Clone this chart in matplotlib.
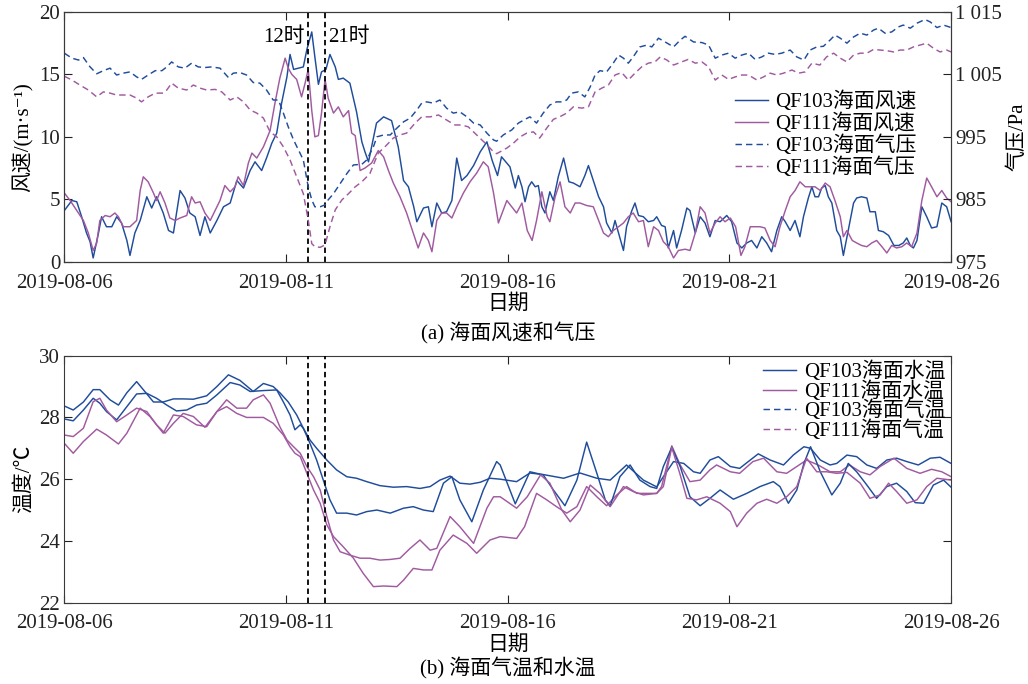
import numpy as np
import matplotlib
matplotlib.use("Agg")
import matplotlib.pyplot as plt
import matplotlib.dates as mdates
from matplotlib.lines import Line2D
from datetime import datetime

plt.rcParams['font.family'] = ['Liberation Serif', 'Noto Sans CJK SC', 'DejaVu Serif']
plt.rcParams['axes.unicode_minus'] = False

# ---------------- data (time in days since 2019-08-06 00:00) ----------------
t_w103 = [0.00,0.17,0.28,0.39,0.50,0.58,0.65,0.77,0.84,0.95,1.07,1.18,1.29,1.41,1.48,1.59,1.71,1.86,1.97,2.08,
          2.23,2.35,2.46,2.61,2.72,2.83,2.95,3.06,3.17,3.29,3.44,3.59,3.74,3.89,4.04,4.19,4.30,4.45,4.56,4.68,
          4.79,4.90,5.02,5.09,5.17,5.28,5.39,5.47,5.58,5.65,5.73,5.80,5.90,5.99,6.11,6.18,6.29,6.44,6.59,6.71,
          6.78,6.86,7.04,7.20,7.38,7.53,7.65,7.76,7.88,7.95,8.10,8.21,8.29,8.40,8.51,8.62,8.74,8.85,8.96,9.08,
          9.23,9.38,9.53,9.65,9.77,9.86,10.05,10.17,10.24,10.32,10.39,10.47,10.54,10.62,10.69,10.77,10.84,10.95,
          11.03,11.14,11.26,11.38,11.48,11.63,11.74,11.82,11.93,12.05,12.16,12.23,12.35,12.42,12.53,12.61,12.68,
          12.80,12.87,12.95,13.06,13.17,13.29,13.36,13.47,13.55,13.62,13.74,13.81,13.92,14.04,14.11,14.23,14.34,
          14.45,14.56,14.68,14.79,14.94,15.05,15.17,15.28,15.39,15.50,15.62,15.73,15.84,15.95,16.07,16.18,16.26,
          16.37,16.48,16.59,16.67,16.78,16.86,16.93,17.01,17.08,17.16,17.23,17.31,17.42,17.50,17.57,17.68,17.80,
          17.87,17.98,18.10,18.17,18.29,18.36,18.47,18.59,18.71,18.82,18.92,19.00,19.08,19.15,19.23,19.34,19.45,
          19.56,19.68,19.79,19.90,20.00]
wind_103 = [4.1,4.9,4.8,3.6,2.3,1.6,0.3,2.3,3.6,2.8,2.8,3.6,3.1,1.7,0.5,2.3,3.3,5.2,4.3,5.2,
            3.9,2.5,2.3,5.7,5.1,3.9,3.6,2.1,3.6,2.3,3.3,4.4,4.7,6.5,5.9,7.3,8.0,7.3,8.3,9.5,
            10.3,12.7,14.8,16.6,15.4,15.5,15.6,17.0,18.4,16.4,14.2,15.2,15.4,16.6,15.6,14.6,14.7,14.3,12.0,9.6,
            8.8,8.0,11.1,11.6,11.3,9.2,6.5,6.0,4.4,3.2,4.3,4.4,2.8,4.7,3.9,4.0,4.9,8.3,6.5,6.9,
            7.7,8.8,9.6,8.1,6.9,8.4,7.6,5.9,6.9,6.0,4.8,6.0,6.4,6.0,6.1,4.4,3.9,5.6,
            4.9,6.8,8.3,6.4,6.3,6.0,6.9,7.7,6.5,5.2,4.4,3.1,2.3,3.3,1.9,0.9,2.8,
            4.1,4.7,3.7,3.6,3.2,3.3,3.6,2.9,2.8,1.1,2.5,1.1,2.5,4.3,4.1,2.3,3.6,
            3.1,2.0,3.3,3.2,3.7,3.2,1.5,1.1,1.5,1.7,1.1,2.0,1.5,0.8,2.5,3.6,3.2,
            2.5,3.3,2.0,3.6,5.1,6.0,5.2,5.2,5.9,6.1,5.2,4.7,2.5,2.0,0.5,2.5,4.7,
            5.1,5.2,5.1,4.0,4.0,2.5,2.4,2.1,1.3,1.3,1.5,1.9,1.3,1.1,1.7,4.4,3.6,
            2.7,2.8,4.7,4.4,3.2]

t_w111 = [0.00,0.13,0.28,0.43,0.54,0.65,0.73,0.80,0.92,1.03,1.14,1.22,1.33,1.48,1.63,1.71,1.78,1.89,2.01,2.08,
          2.16,2.27,2.38,2.50,2.61,2.76,2.87,2.95,3.06,3.17,3.29,3.40,3.51,3.62,3.74,3.85,3.92,4.04,4.15,4.23,
          4.34,4.49,4.64,4.75,4.86,4.98,5.05,5.13,5.24,5.35,5.43,5.50,5.58,5.65,5.73,5.80,5.88,5.95,6.07,6.18,
          6.29,6.41,6.48,6.56,6.67,6.78,6.93,7.08,7.20,7.31,7.42,7.57,7.72,7.87,7.98,8.10,8.21,8.29,8.40,8.51,
          8.62,8.74,8.85,9.00,9.15,9.30,9.45,9.56,9.68,9.79,9.98,10.09,10.20,10.32,10.44,10.55,10.65,10.77,10.89,
          10.95,11.07,11.18,11.29,11.41,11.52,11.63,11.78,11.93,12.05,12.16,12.27,12.38,12.50,12.61,12.72,12.83,
          12.95,13.06,13.17,13.29,13.40,13.51,13.62,13.74,13.85,14.00,14.11,14.23,14.34,14.45,14.56,14.68,14.79,
          14.90,15.02,15.14,15.26,15.35,15.47,15.58,15.69,15.80,15.92,16.03,16.14,16.26,16.37,16.48,16.59,16.71,
          16.82,16.93,17.05,17.16,17.27,17.38,17.50,17.57,17.65,17.77,17.87,17.98,18.10,18.21,18.32,18.44,18.55,
          18.66,18.77,18.89,19.00,19.11,19.23,19.34,19.45,19.56,19.68,19.79,19.90,20.00]
wind_111 = [5.5,4.9,4.1,3.3,2.3,0.9,1.5,3.3,3.7,3.6,3.9,3.6,2.8,2.8,3.3,5.7,6.8,6.4,5.5,4.9,
            5.6,4.7,3.5,3.3,3.5,3.7,5.2,4.7,4.8,3.9,3.3,4.1,4.9,6.1,5.6,6.0,6.8,6.1,7.9,8.7,
            8.3,9.2,10.5,12.7,14.7,16.3,15.5,15.0,14.6,13.2,14.3,15.4,12.1,10.0,10.1,11.9,14.6,13.1,11.9,12.4,
            11.6,12.1,10.3,10.1,7.3,7.5,7.9,8.9,8.4,7.3,6.3,5.2,3.9,2.3,1.1,2.3,1.7,0.8,3.3,3.9,
            3.9,3.5,4.4,5.5,6.4,7.1,8.0,7.6,5.5,3.1,4.9,4.4,3.9,4.7,2.5,1.7,3.3,5.6,3.6,
            3.2,5.2,6.4,4.4,3.9,4.7,4.7,4.5,4.4,3.3,2.3,2.0,2.5,2.8,3.1,3.6,3.9,
            3.2,3.3,1.2,2.8,2.5,1.6,1.2,0.3,0.9,1.0,0.9,2.3,4.4,3.9,2.3,3.1,3.6,
            3.2,3.5,2.8,0.5,1.2,2.8,2.8,2.8,2.7,1.7,1.2,2.8,4.1,5.2,5.7,6.4,6.0,
            6.0,6.0,5.7,6.3,6.0,4.9,3.6,2.0,2.5,1.7,1.5,1.3,1.2,1.5,1.7,1.2,0.7,
            1.3,1.1,1.2,1.5,1.2,2.3,4.9,6.7,6.0,5.2,5.7,5.1,4.8]

t_p103 = [0.00,0.17,0.32,0.43,0.58,0.73,0.88,1.03,1.18,1.33,1.48,1.63,1.74,1.89,2.05,2.20,2.31,2.42,2.57,2.72,
          2.87,3.02,3.17,3.32,3.51,3.70,3.81,3.96,4.11,4.26,4.41,4.56,4.71,4.83,4.94,5.05,5.17,5.28,5.39,5.50,
          5.58,5.65,5.77,5.88,5.95,6.07,6.22,6.37,6.52,6.71,6.82,6.97,7.05,7.20,7.35,7.50,7.65,7.80,7.95,8.06,
          8.17,8.32,8.47,8.62,8.77,8.92,9.08,9.23,9.38,9.53,9.68,9.75,9.90,10.09,10.24,10.39,10.50,10.65,10.80,
          10.95,11.10,11.22,11.33,11.44,11.59,11.74,11.86,11.97,12.08,12.23,12.38,12.50,12.61,12.72,12.83,12.98,
          13.14,13.25,13.40,13.55,13.74,13.89,14.00,14.19,14.38,14.53,14.68,14.83,14.98,15.13,15.28,15.43,15.58,
          15.73,15.88,16.03,16.18,16.37,16.52,16.68,16.82,16.97,17.12,17.27,17.38,17.50,17.65,17.80,17.95,18.10,
          18.25,18.36,18.51,18.66,18.81,18.92,19.08,19.23,19.41,19.53,19.68,19.83,20.00]
pres_103 = [1008.4,1007.6,1007.3,1007.7,1006.2,1005.1,1005.6,1006.0,1004.9,1005.2,1005.4,1004.6,1004.2,1004.9,1005.6,1005.6,1006.2,1007.0,1006.2,1006.0,
            1006.8,1006.2,1006.1,1006.2,1006.0,1004.5,1005.2,1005.3,1004.9,1003.7,1003.6,1002.5,1000.9,1000.9,998.8,996.6,994.5,992.9,991.3,987.0,
            984.9,983.8,983.8,984.1,984.9,985.9,987.5,989.1,990.5,990.6,991.3,993.4,995.0,995.3,995.3,996.4,997.4,998.0,999.3,1000.4,
            1000.6,1000.4,1000.9,999.6,998.8,999.0,998.2,997.2,996.9,995.6,994.5,994.3,995.3,996.1,997.2,997.8,998.2,997.2,998.8,
            1000.1,1000.6,1000.6,1000.9,1002.0,1002.2,1001.4,1003.0,1004.9,1005.6,1005.4,1006.8,1008.1,1007.6,1006.8,1007.8,1009.4,
            1009.7,1009.4,1010.8,1010.2,1009.4,1010.5,1011.1,1010.2,1010.1,1009.7,1007.6,1008.1,1008.4,1007.6,1008.1,1008.4,1007.4,
            1007.8,1008.4,1008.2,1008.4,1008.9,1007.8,1007.3,1008.9,1009.4,1009.5,1010.5,1011.3,1010.8,1010.0,1011.0,1011.6,1011.3,
            1012.1,1012.4,1011.6,1011.8,1012.6,1012.9,1012.4,1013.2,1013.8,1013.4,1012.5,1012.9,1012.5]

t_p111 = [0.00,0.17,0.35,0.54,0.73,0.88,1.03,1.18,1.33,1.48,1.63,1.74,1.89,2.05,2.23,2.31,2.42,2.57,2.76,2.91,
          3.06,3.21,3.40,3.55,3.74,3.89,4.04,4.19,4.34,4.49,4.64,4.79,4.94,5.09,5.24,5.39,5.50,5.58,5.65,5.77,
          5.88,5.99,6.11,6.26,6.41,6.56,6.71,6.89,7.08,7.23,7.42,7.57,7.72,7.91,8.06,8.25,8.44,8.62,8.81,8.96,
          9.11,9.30,9.49,9.68,9.75,9.98,10.13,10.28,10.43,10.58,10.72,10.88,11.03,11.17,11.33,11.48,11.67,11.82,
          11.97,12.12,12.27,12.42,12.57,12.72,12.87,13.02,13.17,13.32,13.44,13.59,13.74,13.92,14.07,14.23,14.38,
          14.53,14.68,14.83,14.98,15.13,15.28,15.43,15.62,15.77,15.92,16.07,16.22,16.41,16.56,16.71,16.86,17.04,
          17.19,17.35,17.50,17.65,17.80,17.95,18.10,18.25,18.40,18.55,18.70,18.85,19.00,19.15,19.30,19.45,19.60,
          19.75,19.90,20.00]
pres_111 = [1004.7,1004.1,1003.3,1002.5,1001.4,1002.2,1002.0,1001.7,1001.7,1001.7,1001.2,1000.6,1001.4,1002.0,1002.0,1002.5,1003.6,1002.8,1002.5,1003.3,
            1002.8,1002.5,1002.6,1002.2,1000.9,1001.4,1000.6,999.3,998.8,998.0,995.8,995.0,993.4,991.3,988.6,985.9,981.7,977.9,977.4,977.3,
            977.7,980.6,983.3,984.9,985.9,987.0,987.8,989.1,992.4,993.4,994.8,995.3,995.6,997.2,998.2,998.2,998.5,997.7,996.9,996.9,
            996.6,995.3,994.0,992.6,992.3,993.2,994.0,995.0,995.6,995.8,994.8,996.4,997.8,998.2,998.8,999.8,999.6,999.8,
            1002.2,1002.8,1003.3,1004.9,1005.3,1004.1,1005.2,1006.2,1006.8,1007.0,1007.8,1007.3,1006.5,1007.0,1007.4,1006.8,1007.0,
            1006.2,1004.1,1004.9,1004.2,1004.6,1004.9,1004.9,1004.1,1004.6,1005.2,1004.9,1005.2,1005.7,1005.2,1005.4,1006.8,1006.5,
            1007.8,1008.4,1007.6,1007.0,1008.1,1008.4,1008.4,1009.0,1008.9,1008.8,1008.6,1008.9,1008.9,1009.4,1009.7,1010.0,1009.2,
            1008.6,1008.9,1008.6]

t_sst103 = [0.00,0.20,0.43,0.65,0.80,1.03,1.22,1.41,1.63,1.78,2.01,2.23,2.46,2.68,2.91,3.21,3.44,3.70,3.96,4.26,
            4.49,4.71,4.86,5.05,5.24,5.39,5.54,5.69,5.92,6.14,6.37,6.59,6.82,7.12,7.42,7.72,8.02,8.25,8.47,8.70,
            8.92,9.15,9.38,9.60,9.83,10.20,10.50,10.80,11.26,11.63,12.01,12.31,12.68,13.06,13.36,13.51,13.74,13.97,
            14.19,14.34,14.56,14.75,15.02,15.23,15.47,15.65,15.92,16.22,16.44,16.68,16.83,17.05,17.27,17.42,17.65,
            17.87,18.10,18.32,18.55,18.77,19.00,19.26,19.53,19.75,20.00]
sst_103 = [28.37,28.24,28.5,28.9,28.9,28.57,28.4,28.8,29.16,28.9,28.5,28.5,28.6,28.6,28.59,28.7,29.0,29.38,29.2,28.84,
           29.1,29.0,28.8,28.5,28.08,27.65,27.27,27.0,26.62,26.3,26.08,26.03,25.92,25.79,25.74,25.76,25.7,25.76,25.97,26.1,
           25.87,25.84,25.9,26.03,26.0,25.92,26.2,26.15,26.03,26.2,26.03,25.97,26.46,25.97,25.75,26.08,26.57,26.51,
           26.24,26.19,26.62,26.73,26.41,26.35,26.62,26.82,26.62,26.46,26.78,27.05,27.0,26.62,26.46,26.51,26.78,
           26.73,26.46,26.35,26.62,26.68,26.57,26.46,26.68,26.71,26.51]

t_sst111 = [0.00,0.20,0.43,0.73,0.95,1.22,1.41,1.71,1.93,2.23,2.46,2.68,2.98,3.21,3.44,3.66,3.89,4.11,4.49,4.71,
            4.94,5.09,5.20,5.32,5.47,5.62,5.77,5.92,6.07,6.29,6.52,6.74,6.97,7.20,7.50,7.65,7.87,8.10,8.29,8.47,
            8.77,9.08,9.30,9.60,9.83,10.20,10.38,10.65,10.88,11.10,11.33,11.56,11.78,12.01,12.23,12.46,12.68,12.91,
            13.14,13.36,13.47,13.70,13.89,14.11,14.34,14.56,14.71,15.02,15.23,15.53,15.77,16.07,16.29,16.52,16.74,
            17.00,17.27,17.50,17.71,17.95,18.17,18.40,18.71,19.00,19.30,19.56,19.79,20.00]
sst_111 = [27.16,26.84,27.22,27.62,27.43,27.14,27.49,28.3,28.03,27.49,28.08,28.03,27.76,27.7,28.19,28.35,28.13,28.0,28.0,27.81,
           27.43,27.05,26.84,26.73,26.19,25.65,25.22,24.52,24.14,23.81,23.44,22.95,22.52,22.54,22.52,22.73,23.11,23.06,23.06,23.7,
           24.19,23.92,23.6,24.03,24.14,24.08,24.46,25.54,25.33,25.11,24.9,25.11,25.76,25.43,25.14,25.49,25.76,25.54,
           25.54,25.54,25.76,27.08,26.46,25.92,25.97,26.3,26.46,26.24,26.19,26.57,26.68,26.24,26.19,26.41,26.62,
           26.46,26.24,26.24,26.46,26.24,26.14,26.41,26.68,26.35,26.19,26.32,26.24,26.08]

t_at103 = [0.00,0.20,0.43,0.65,0.80,0.95,1.18,1.41,1.63,1.86,2.08,2.31,2.53,2.76,2.98,3.21,3.44,3.74,3.96,4.19,
           4.49,4.79,4.94,5.09,5.20,5.32,5.39,5.54,5.69,5.84,5.99,6.14,6.37,6.59,6.82,7.05,7.35,7.65,7.87,8.10,
           8.32,8.55,8.74,8.92,9.19,9.45,9.75,9.83,10.17,10.50,10.80,11.03,11.29,11.56,11.78,12.01,12.20,12.31,
           12.53,12.76,12.98,13.21,13.36,13.51,13.70,13.89,14.11,14.34,14.56,14.79,15.09,15.39,15.69,15.99,16.14,
           16.33,16.52,16.68,16.83,17.05,17.31,17.50,17.68,17.87,18.10,18.32,18.55,18.77,19.00,19.19,19.38,19.60,
           19.83,20.00]
at_103 = [27.95,27.89,28.24,28.62,28.46,28.19,27.92,28.35,28.76,28.78,28.62,28.4,28.21,28.24,28.4,28.46,28.73,29.13,29.05,28.84,
          28.87,28.89,28.5,28.08,27.6,27.76,27.65,27.16,26.62,25.97,25.33,24.9,24.9,24.84,24.95,25.0,24.9,25.06,25.11,25.0,
          24.95,25.87,26.08,25.33,24.62,25.65,26.57,26.46,25.2,26.24,26.14,25.65,25.14,25.97,27.2,26.19,25.33,25.13,
          26.08,26.46,25.97,25.76,25.7,26.41,27.03,26.41,25.43,25.14,25.38,25.65,25.35,25.54,25.76,25.92,25.76,
          25.22,25.65,26.51,27.05,26.24,25.49,25.87,26.51,26.24,25.81,25.38,25.76,25.87,25.6,25.24,25.22,25.81,
          25.97,25.74]

t_at111 = [0.00,0.20,0.43,0.65,0.80,0.95,1.18,1.41,1.63,1.86,2.08,2.27,2.46,2.68,2.91,3.17,3.44,3.66,3.89,4.11,
           4.26,4.49,4.64,4.86,5.02,5.17,5.32,5.47,5.62,5.77,5.92,6.07,6.22,6.44,6.67,6.89,7.12,7.35,7.57,7.80,
           8.02,8.25,8.40,8.70,8.92,9.23,9.53,9.68,9.83,10.20,10.44,10.74,10.95,11.22,11.41,11.63,11.86,12.08,
           12.31,12.61,12.83,13.06,13.36,13.51,13.70,13.89,14.04,14.26,14.49,14.79,15.02,15.17,15.39,15.62,15.84,
           16.07,16.29,16.52,16.74,16.97,17.19,17.42,17.65,17.95,18.17,18.40,18.59,18.77,19.00,19.23,19.45,19.68,
           20.00]
at_111 = [27.43,27.38,27.65,28.51,28.62,28.24,27.86,28.08,28.3,28.19,27.76,27.49,27.81,28.13,28.03,27.68,28.19,28.57,28.3,28.3,
          28.57,28.73,28.46,27.7,27.27,27.05,26.84,26.41,26.08,25.65,24.79,24.03,23.65,23.54,23.44,23.44,23.38,23.4,23.44,23.76,
          24.03,23.7,23.76,24.79,24.46,23.92,25.06,25.43,25.43,25.06,25.43,26.14,25.87,25.0,24.62,25.0,25.81,25.54,
          25.11,25.76,25.6,25.49,25.54,25.76,27.03,26.14,25.38,25.33,25.43,25.22,24.95,24.46,24.9,25.22,25.35,
          25.22,25.43,25.76,26.68,26.24,26.24,26.19,26.22,25.87,25.38,25.49,25.87,25.6,25.22,25.33,25.76,26.03,
          25.97]

events_hours = [12, 21]            # 2019-08-11 12时 / 21时
event_labels = ['12时', '21时']
date_ticks = ['2019-08-06', '2019-08-11', '2019-08-16', '2019-08-21', '2019-08-26']
wind_ticks = [0, 5, 10, 15, 20]
pres_ticks = [975, 985, 995, 1005, 1015]
pres_ticklabels = ['975', '985', '995', '1 005', '1 015']
temp_ticks = [22, 24, 26, 28, 30]

# ---------------- styling ----------------
BLUE = '#1F4C9B'
PURPLE = '#A05A9F'
FS = 15
SPINE = '#3a3a3a'

base = mdates.date2num(datetime(2019, 8, 6))
def tx(t):
    return base + np.asarray(t, dtype=float)

tick_pos = [mdates.date2num(datetime.strptime(d, '%Y-%m-%d')) for d in date_ticks]
ev_x = [mdates.date2num(datetime(2019, 8, 11, h)) for h in events_hours]

fig = plt.figure(figsize=(10.28, 6.84), dpi=100)
ax1 = fig.add_axes([0.0626, 0.6174, 0.8626, 0.3651])
ax2 = fig.add_axes([0.0626, 0.1189, 0.8626, 0.3611])
ax1r = ax1.twinx()

dash = (0, (4.4, 2.8))
lw = 1.05

# top panel
l1, = ax1.plot(tx(t_w103), wind_103, color=BLUE, lw=lw)
l2, = ax1.plot(tx(t_w111), wind_111, color=PURPLE, lw=lw)
l3, = ax1r.plot(tx(t_p103), pres_103, color=BLUE, lw=lw, ls=dash)
l4, = ax1r.plot(tx(t_p111), pres_111, color=PURPLE, lw=lw, ls=dash)

ax1.set_ylim(0, 20)
ax1.set_yticks(wind_ticks)
ax1r.set_ylim(975, 1015)
ax1r.set_yticks(pres_ticks)
ax1r.set_yticklabels(pres_ticklabels)

for xv in ev_x:
    ax1.axvline(xv, color='black', lw=1.3, ls=(0, (3, 2)), zorder=5)
    ax2.axvline(xv, color='black', lw=1.3, ls=(0, (3, 2)), zorder=5)
ax1.text(ev_x[0] - 0.08, 18.0, event_labels[0], ha='right', va='center', fontsize=FS)
ax1.text(ev_x[1] + 0.08, 18.0, event_labels[1], ha='left', va='center', fontsize=FS)

ax1.set_ylabel('风速/(m·s⁻¹)', fontsize=FS, labelpad=4)
ax1r.set_ylabel('气压/Pa', fontsize=FS, labelpad=4)

ax1r.legend([l1, l2, l3, l4], ['QF103海面风速', 'QF111海面风速', 'QF103海面气压', 'QF111海面气压'],
            loc='upper left', bbox_to_anchor=(0.756, 0.682), frameon=False, fontsize=FS,
            handlelength=1.6, handletextpad=0.35, labelspacing=0.07, borderpad=0, borderaxespad=0)

# bottom panel
ax2.plot(tx(t_sst103), sst_103, color=BLUE, lw=lw)
ax2.plot(tx(t_sst111), sst_111, color=PURPLE, lw=lw)
ax2.plot(tx(t_at103), at_103, color=BLUE, lw=lw)
ax2.plot(tx(t_at111), at_111, color=PURPLE, lw=lw)
ax2.set_ylim(22, 30)
ax2.set_yticks(temp_ticks)
ax2.set_ylabel('温度/℃', fontsize=FS, labelpad=4)

h = [Line2D([], [], color=BLUE, lw=lw), Line2D([], [], color=PURPLE, lw=lw),
     Line2D([], [], color=BLUE, lw=lw, ls=dash), Line2D([], [], color=PURPLE, lw=lw, ls=dash)]
ax2.legend(h, ['QF103海面水温', 'QF111海面水温', 'QF103海面气温', 'QF111海面气温'],
           loc='upper left', bbox_to_anchor=(0.788, 0.975), frameon=False, fontsize=FS,
           handlelength=1.6, handletextpad=0.35, labelspacing=-0.05, borderpad=0, borderaxespad=0)

for ax in (ax1, ax2):
    ax.set_xlim(tick_pos[0], tick_pos[-1])
    ax.set_xticks(tick_pos)
    ax.set_xticklabels(date_ticks)
    ax.tick_params(axis='both', direction='in', length=5.5, width=0.8, labelsize=FS,
                   top=True, pad=3, colors='#222222')
    ax.tick_params(axis='x', pad=8.5)
    for s in ax.spines.values():
        s.set_color(SPINE)
        s.set_linewidth(0.8)
ax2.tick_params(axis='y', right=True)
ax1r.tick_params(axis='y', direction='in', length=5.5, width=0.8, labelsize=FS, pad=3, colors='#222222')
for s in ax1r.spines.values():
    s.set_color(SPINE)
    s.set_linewidth(0.8)

fig.text(0.494, 0.556, '日期', ha='center', va='center', fontsize=FS)
fig.text(0.494, 0.513, '(a) 海面风速和气压', ha='center', va='center', fontsize=FS)
fig.text(0.494, 0.057, '日期', ha='center', va='center', fontsize=FS)
fig.text(0.494, 0.0234, '(b) 海面气温和水温', ha='center', va='center', fontsize=FS)

fig.savefig('out.png', dpi=100)
